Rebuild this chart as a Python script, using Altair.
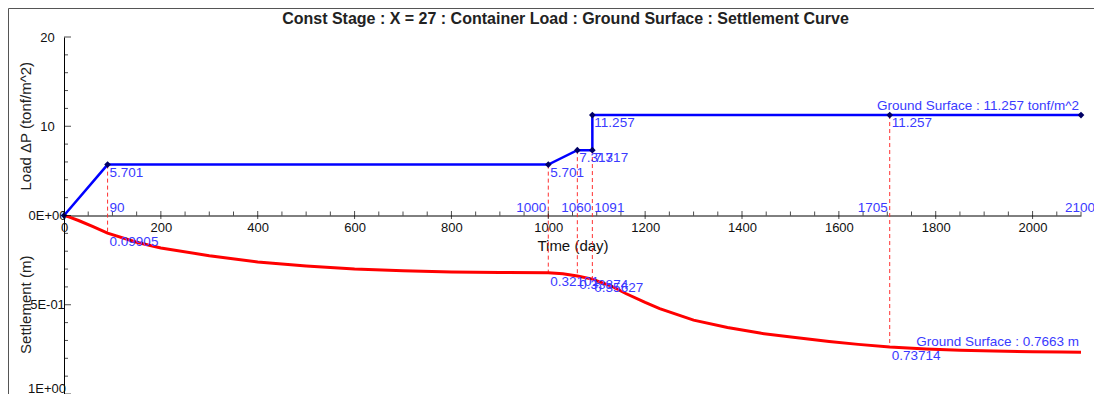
import altair as alt
import pandas as pd

# ---------------- texts ----------------
TITLE = "Const Stage : X = 27 : Container Load : Ground Surface : Settlement Curve"
X_TITLE = "Time (day)"
LOAD_TITLE = "Load \u0394P (tonf/m^2)"
SETT_TITLE = "Settlement (m)"

# ---------------- load history ----------------
load_time = [0, 90, 1000, 1060, 1091, 1091, 1705, 2100]
load_value = [0.0, 5.701, 5.701, 7.317, 7.317, 11.257, 11.257, 11.257]

# ---------------- settlement curve ----------------
sett_time = [0, 10, 30, 60, 90, 150, 200, 300, 400, 500, 600, 700, 800, 900,
             1000, 1030, 1060, 1091, 1130, 1160, 1200, 1230, 1300, 1370, 1440,
             1510, 1580, 1640, 1705, 1780, 1850, 1920, 2000, 2060, 2100]
sett_value = [0.0, 0.008, 0.028, 0.062, 0.09905, 0.150, 0.182, 0.225, 0.260,
              0.283, 0.300, 0.310, 0.316, 0.319, 0.32101, 0.326, 0.33874,
              0.35627, 0.395, 0.437, 0.487, 0.522, 0.586, 0.627, 0.660, 0.684,
              0.706, 0.722, 0.73714, 0.748, 0.755, 0.759, 0.763, 0.765, 0.7663]

# ---------------- marked events (dashed guides) ----------------
event_time = [90, 1000, 1060, 1091, 1705]
event_load = [5.701, 5.701, 7.317, 11.257, 11.257]
event_sett = [0.09905, 0.32101, 0.33874, 0.35627, 0.73714]
event_sett_text = ["0.09905", "0.32101", "0.33874", "0.35627", "0.73714"]

# load value labels
load_label_time = [90, 1000, 1060, 1091, 1091, 1705]
load_label_value = [5.701, 5.701, 7.317, 7.317, 11.257, 11.257]
load_label_text = ["5.701", "5.701", "7.317", "7.317", "11.257", "11.257"]

# time labels on the axis line
time_label_time = [90, 1000, 1060, 1091, 1705, 2100]
time_label_text = ["90", "1000", "1060", "1091", "1705", "2100"]
time_label_align = ["left", "right", "center", "left", "right", "center"]

# final values
final_time = [2100]
final_load = [11.257]
final_sett = [0.7663]
final_load_text = ["Ground Surface : 11.257 tonf/m^2"]
final_sett_text = ["Ground Surface : 0.7663 m"]

# axis ticks / labels
x_label_values = list(range(0, 2001, 200))
x_tick_values = list(range(0, 2101, 50))
y_tick_values = list(range(-20, 21, 2))
y_label_values = [20, 10, 0, -10]
y_label_texts = ["20", "10", "0E+00", "5E-01"]
y_bottom_value = [-20]
y_bottom_text = ["1E+00"]
axis_title_pos = [10, -10]
axis_title_text = [LOAD_TITLE, SETT_TITLE]

SETT_FACTOR = 20  # 1 m settlement drawn as 20 units below the time axis

# ---------------- styling ----------------
W, H = 1017, 357
TOP, LEFT, RIGHT = 29, 56, 13
FONT = "Liberation Sans"
BLUE = "#0000ff"
LABEL_BLUE = "#3a3aff"
RED = "#ff0000"
DIAMOND = "#000066"
LAB = 13
BLAB = 13.5

label_expr = " : ".join(
    f"datum.value == {v} ? '{t}'" for v, t in zip(y_label_values, y_label_texts)
) + " : ''"

x_scale = alt.Scale(domain=[0, 2100], nice=False, zero=False)
y_scale = alt.Scale(domain=[-20, 20], nice=False, zero=False)

x_axis = alt.Axis(values=x_label_values, format="d", title=X_TITLE, grid=False,
                  tickSize=0, offset=-H / 2, labelPadding=6, labelFont=FONT,
                  labelFontSize=LAB, labelColor="#111", domainColor="#000",
                  titleFont=FONT, titleFontSize=15, titleFontWeight="normal",
                  titleColor="#111", titlePadding=4, labelFlush=False)
y_axis = alt.Axis(values=y_label_values, labelExpr=label_expr, title=None,
                  grid=False, tickSize=0, labelAlign="center",
                  labelBaseline="middle",
                  labelPadding=17, labelFont=FONT, labelFontSize=LAB,
                  labelColor="#111", domainColor="#000")


def X(field):
    return alt.X(field, type="quantitative", scale=x_scale, axis=x_axis)


def Y(field):
    return alt.Y(field, type="quantitative", scale=y_scale, axis=y_axis)


load_df = pd.DataFrame({"t": load_time, "load": load_value,
                        "i": list(range(len(load_time)))})
sett_df = pd.DataFrame({"t": sett_time, "settlement": sett_value})
event_df = pd.DataFrame({"t": event_time, "load": event_load,
                         "settlement": event_sett, "txt": event_sett_text})
load_lab_df = pd.DataFrame({"t": load_label_time, "load": load_label_value,
                            "txt": load_label_text})
time_lab_df = pd.DataFrame({"t": time_label_time, "txt": time_label_text,
                            "al": time_label_align})
final_df = pd.DataFrame({"t": final_time, "load": final_load,
                         "settlement": final_sett, "lt": final_load_text,
                         "st": final_sett_text})
xt_df = pd.DataFrame({"t": x_tick_values})
yt_df = pd.DataFrame({"v": y_tick_values})
yb_df = pd.DataFrame({"v": y_bottom_value, "txt": y_bottom_text})
at_df = pd.DataFrame({"v": axis_title_pos, "txt": axis_title_text})
one_df = pd.DataFrame({"a": [0]})

sy = f"-datum.settlement * {SETT_FACTOR}"

guides = alt.Chart(event_df).transform_calculate(sy=sy).mark_rule(
    color="#ff3030", strokeWidth=1, strokeDash=[4, 3]
).encode(x=X("t"), y=Y("load"), y2="sy:Q")

sett_line = alt.Chart(sett_df).transform_calculate(sy=sy).mark_line(
    color=RED, strokeWidth=3
).encode(x=X("t"), y=Y("sy"))

load_line = alt.Chart(load_df).mark_line(color=BLUE, strokeWidth=2.5).encode(
    x=X("t"), y=Y("load"), order="i:Q")

load_pts = alt.Chart(load_df).mark_point(
    shape="diamond", filled=True, size=45, color=DIAMOND, opacity=1
).encode(x=X("t"), y=Y("load"))

xt_minor = alt.Chart(xt_df).transform_filter("datum.t % 200 != 0").mark_tick(
    orient="vertical", size=4, thickness=1, yOffset=-2, color="#000"
).encode(x=X("t"), y=alt.datum(0))
xt_major = alt.Chart(xt_df).transform_filter("datum.t % 200 == 0").mark_tick(
    orient="vertical", size=8, thickness=1, yOffset=-0.5, color="#000"
).encode(x=X("t"), y=alt.datum(0))
yt_minor = alt.Chart(yt_df).transform_filter("datum.v % 10 != 0").mark_tick(
    orient="horizontal", size=4, thickness=1, xOffset=2, color="#000"
).encode(x=alt.value(0), y=Y("v"))
yt_major = alt.Chart(yt_df).transform_filter("datum.v % 10 == 0").mark_tick(
    orient="horizontal", size=7, thickness=1, xOffset=3.5, color="#000"
).encode(x=alt.value(0), y=Y("v"))

# bottom label of the settlement axis, kept inside the page
y_bottom_label = alt.Chart(yb_df).mark_text(
    align="center", baseline="alphabetic", dy=-1, font=FONT, fontSize=LAB,
    color="#111"
).encode(x=alt.value(-17), y=Y("v"), text="txt:N")

load_labels = alt.Chart(load_lab_df).mark_text(
    align="left", baseline="top", dx=2, dy=1, font=FONT, fontSize=BLAB,
    color=LABEL_BLUE
).encode(x=X("t"), y=Y("load"), text="txt:N")

sett_labels = alt.Chart(event_df).transform_calculate(sy=sy).mark_text(
    align="left", baseline="top", dx=2, dy=2, font=FONT, fontSize=BLAB,
    color=LABEL_BLUE
).encode(x=X("t"), y=Y("sy"), text="txt:N")


def time_labels(al, dx):
    return alt.Chart(time_lab_df).transform_filter(f"datum.al == '{al}'").mark_text(
        align=al, baseline="bottom", dx=dx, dy=-1, font=FONT, fontSize=BLAB,
        color=LABEL_BLUE
    ).encode(x=X("t"), y=alt.datum(0), text="txt:N")


final_load_lab = alt.Chart(final_df).mark_text(
    align="right", baseline="alphabetic", dx=-2, dy=-5, font=FONT, fontSize=BLAB,
    color=LABEL_BLUE
).encode(x=X("t"), y=Y("load"), text="lt:N")
final_sett_lab = alt.Chart(final_df).transform_calculate(sy=sy).mark_text(
    align="right", baseline="alphabetic", dx=-2, dy=-6, font=FONT, fontSize=BLAB,
    color=LABEL_BLUE
).encode(x=X("t"), y=Y("sy"), text="st:N")

axis_titles = alt.Chart(at_df).mark_text(
    angle=270, align="center", baseline="middle", font=FONT, fontSize=15,
    color="#222"
).encode(x=alt.value(-38), y=Y("v"), text="txt:N")

frame_top = alt.Chart(one_df).mark_rule(color="#555", strokeWidth=1).encode(
    x=alt.value(-LEFT + 0.5), x2=alt.value(W + RIGHT), y=alt.value(-TOP + 0.5))
frame_left = alt.Chart(one_df).mark_rule(color="#555", strokeWidth=1).encode(
    x=alt.value(-LEFT + 0.5), y=alt.value(-TOP + 0.5), y2=alt.value(H))

chart = alt.layer(
    guides, sett_line, load_line, load_pts,
    xt_minor, xt_major, yt_minor, yt_major, y_bottom_label,
    load_labels, sett_labels,
    time_labels("left", 2), time_labels("right", -2), time_labels("center", -1),
    final_load_lab, final_sett_lab, axis_titles, frame_top, frame_left,
).properties(
    width=W, height=H,
    background="white",
    title=alt.TitleParams(TITLE, anchor="middle", frame="group", offset=-35,
                          baseline="bottom", dx=-7, font=FONT, fontSize=16,
                          fontWeight="bold", color="#222"),
    autosize="none",
    padding={"left": LEFT, "top": TOP, "right": RIGHT, "bottom": 0},
).configure_view(stroke=None)

chart.save("out.html", embed_options={"renderer": "svg", "actions": False})
